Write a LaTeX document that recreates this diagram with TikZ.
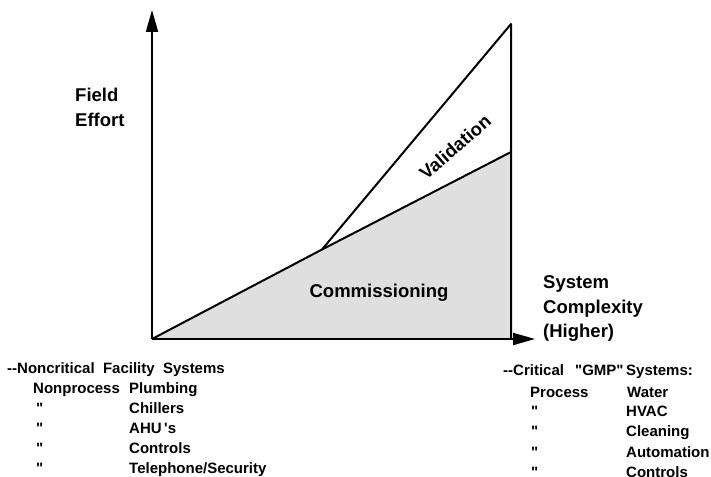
\documentclass[tikz,border=0pt]{standalone}
\usepackage{fontspec}
\newfontfamily\hv{Liberation Sans}
\usetikzlibrary{arrows.meta}
\begin{document}
\begin{tikzpicture}[x=1pt,y=-1pt,
  axis/.style={line width=2pt,-{Triangle[length=22pt,width=12pt]}},
  edge/.style={line width=2pt,line join=round},
  big/.style={font=\hv\fontsize{18.5}{24.5}\selectfont\bfseries,inner sep=0pt,anchor=base west},
  small/.style={font=\hv\fontsize{15}{20}\selectfont\bfseries,inner sep=0pt,anchor=base west}]
\useasboundingbox (0,0) rectangle (711,476);
\coordinate (O) at (152,339);
\coordinate (K) at (322,249.5);
\coordinate (R) at (511,152);
\coordinate (T) at (511,24);
\coordinate (B) at (511,339);
\coordinate (Ytip) at (152,10);
\coordinate (Xtip) at (535,339);
\fill[gray!25] (O) -- (R) -- (B) -- cycle;
\draw[edge] (O) -- (K) -- (R);
\draw[edge] (K) -- (T) -- (B);
\draw[axis] (O) -- (Ytip);
\draw[axis] (O) -- (Xtip);
% labels
\node[big,align=left,anchor=north west] (fe) at (75,88) {Field\\Effort};
\node[big] (sys1) at (543,288) {System};
\node[big] (sys2) at (543,313) {Complexity};
\node[big] (sys3) at (543,337) {(Higher)};
\node[big,anchor=center] (comm) at (379,293) {Commissioning};
\node[big,anchor=center,rotate=41] (val) at (455,147) {Validation};
% left list
\node[small] (l0) at (7,373) {--Noncritical\ \ Facility\ \ Systems};
\node[small] (l1a) at (33,393) {Nonprocess};
\node[small] (l1b) at (129,393) {Plumbing};
\node[small] (l2a) at (36,413) {"};
\node[small] (l2b) at (129,413) {Chillers};
\node[small] (l3a) at (36,433) {"};
\node[small] (l3b) at (129,433) {AHU\,'s};
\node[small] (l4a) at (36,453) {"};
\node[small] (l4b) at (129,453) {Controls};
\node[small] (l5a) at (36,473) {"};
\node[small] (l5b) at (129,473) {Telephone/Security};
% right list
\node[small] (r0a) at (503,375) {--Critical};
\node[small] (r0b) at (575,375) {"GMP"};
\node[small] (r0c) at (626,375) {Systems:};
\node[small] (r1a) at (530,397) {Process};
\node[small] (r1b) at (627,397) {Water};
\node[small] (r2a) at (531,416) {"};
\node[small] (r2b) at (626,416) {HVAC};
\node[small] (r3a) at (531,436) {"};
\node[small] (r3b) at (626,436) {Cleaning};
\node[small] (r4a) at (531,457) {"};
\node[small] (r4b) at (626,457) {Automation};
\node[small] (r5a) at (531,477) {"};
\node[small] (r5b) at (626,477) {Controls};
\end{tikzpicture}
\end{document}
